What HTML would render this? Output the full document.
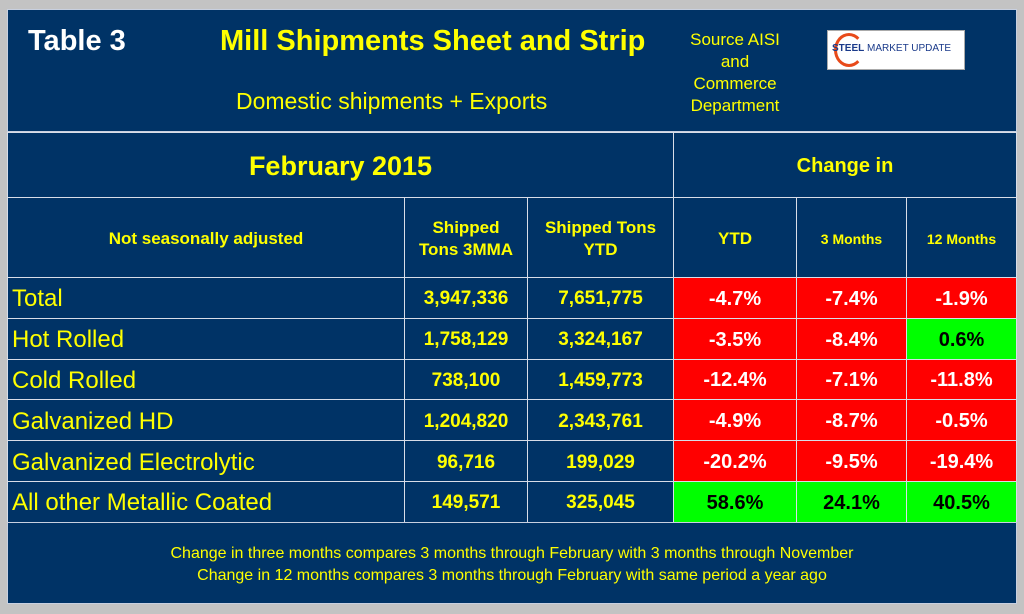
<!DOCTYPE html>
<html><head><meta charset="utf-8"><style>
body{margin:0;width:1024px;height:614px;background:#c3c3c3;position:relative;overflow:hidden;font-family:"Liberation Sans",Arial,sans-serif}
.b{position:absolute;background:#003366;box-sizing:border-box;border:1px solid #c8d0e0}
.c{position:absolute;box-sizing:border-box;border:1px solid #d8dde8;display:flex;align-items:center;justify-content:center;text-align:center;color:#ffff00;font-weight:bold;padding-top:3px}
.t{position:absolute;white-space:nowrap}
.red{background:#ff0000;color:#fff;font-size:20px}
.grn{background:#00ff00;color:#000;font-size:20px}
.num{font-size:19px;background:#003366}
.lab{justify-content:flex-start;padding-left:4px;font-weight:normal;font-size:24px;background:#003366}
</style></head><body>
<div class="b" style="left:7px;top:9px;width:1010px;height:123px"></div>
<div class="t" style="left:28px;top:25px;font-size:29px;font-weight:bold;color:#fff">Table 3</div>
<div class="t" style="left:220px;top:25px;font-size:29px;font-weight:bold;color:#ffff00">Mill Shipments Sheet and Strip</div>
<div class="t" style="left:236px;top:88px;font-size:23px;color:#ffff00">Domestic shipments + Exports</div>
<div class="t" style="left:680px;top:29px;width:110px;text-align:center;font-size:17px;line-height:22px;color:#ffff00;white-space:normal">Source AISI<br>and<br>Commerce<br>Department</div>
<div style="position:absolute;left:827px;top:30px;width:138px;height:40px;background:#fff;border:1px solid #aaa;box-sizing:border-box">
<div style="position:absolute;left:6px;top:2px;width:30px;height:34px;border-radius:50%;border:3px solid #e84a1a;border-right-color:transparent;box-sizing:border-box"></div>
<div class="t" style="left:4px;top:12px;font-size:10px;color:#1a3a8a"><b>STEEL</b> MARKET UPDATE</div></div>

<div class="c" style="left:7px;top:132px;width:667px;height:66px;background:#003366;font-size:27px">February 2015</div>
<div class="c" style="left:673px;top:132px;width:344px;height:66px;background:#003366;font-size:20px">Change in</div>
<div class="c" style="left:7px;top:197px;width:398px;height:81px;background:#003366;font-size:17px">Not seasonally adjusted</div>
<div class="c" style="left:404px;top:197px;width:124px;height:81px;background:#003366;font-size:17px;line-height:22px">Shipped<br>Tons 3MMA</div>
<div class="c" style="left:527px;top:197px;width:147px;height:81px;background:#003366;font-size:17px;line-height:22px">Shipped Tons<br>YTD</div>
<div class="c" style="left:673px;top:197px;width:124px;height:81px;background:#003366;font-size:17px">YTD</div>
<div class="c" style="left:796px;top:197px;width:111px;height:81px;background:#003366;font-size:14px">3 Months</div>
<div class="c" style="left:906px;top:197px;width:111px;height:81px;background:#003366;font-size:14px">12 Months</div>
<div id="rows"></div>
<div class="b" style="left:7px;top:522px;width:1010px;height:82px"></div>
<div class="t" style="left:0;width:1024px;text-align:center;top:545px;font-size:16px;color:#ffff00">Change in three months compares 3 months through February with 3 months through November</div>
<div class="t" style="left:0;width:1024px;text-align:center;top:567px;font-size:16px;color:#ffff00">Change in 12 months compares 3 months through February with same period a year ago</div>
<script>
const products=["Total","Hot Rolled","Cold Rolled","Galvanized HD","Galvanized Electrolytic","All other Metallic Coated"];
const tons3mma=["3,947,336","1,758,129","738,100","1,204,820","96,716","149,571"];
const tonsYtd=["7,651,775","3,324,167","1,459,773","2,343,761","199,029","325,045"];
const chgYtd=[-4.7,-3.5,-12.4,-4.9,-20.2,58.6];
const chg3m=[-7.4,-8.4,-7.1,-8.7,-9.5,24.1];
const chg12m=[-1.9,0.6,-11.8,-0.5,-19.4,40.5];
const R=document.getElementById('rows');
const cols=[[7,398],[404,124],[527,147],[673,124],[796,111],[906,111]];
function cell(x,w,y,h,cls,txt,name){const d=document.createElement('div');d.className='c '+cls;


d.style.cssText=`left:${x}px;top:${y}px;width:${w}px;height:${h}px`;d.textContent=txt;R.appendChild(d);}
products.forEach((p,i)=>{const y=277+i*40.8,h=41.8;
const slug=p.toLowerCase().replace(/\s+/g,'-');
cell(cols[0][0],cols[0][1],y,h,'lab',p,'row-label-'+slug);
cell(cols[1][0],cols[1][1],y,h,'num',tons3mma[i],'tons-3mma-'+slug);
cell(cols[2][0],cols[2][1],y,h,'num',tonsYtd[i],'tons-ytd-'+slug);
[chgYtd,chg3m,chg12m].forEach((a,j)=>{const v=a[i];cell(cols[3+j][0],cols[3+j][1],y,h,v<0?'red':'grn',v.toFixed(1)+'%',['change-ytd-','change-3m-','change-12m-'][j]+slug);});
});
</script>
</body></html>
